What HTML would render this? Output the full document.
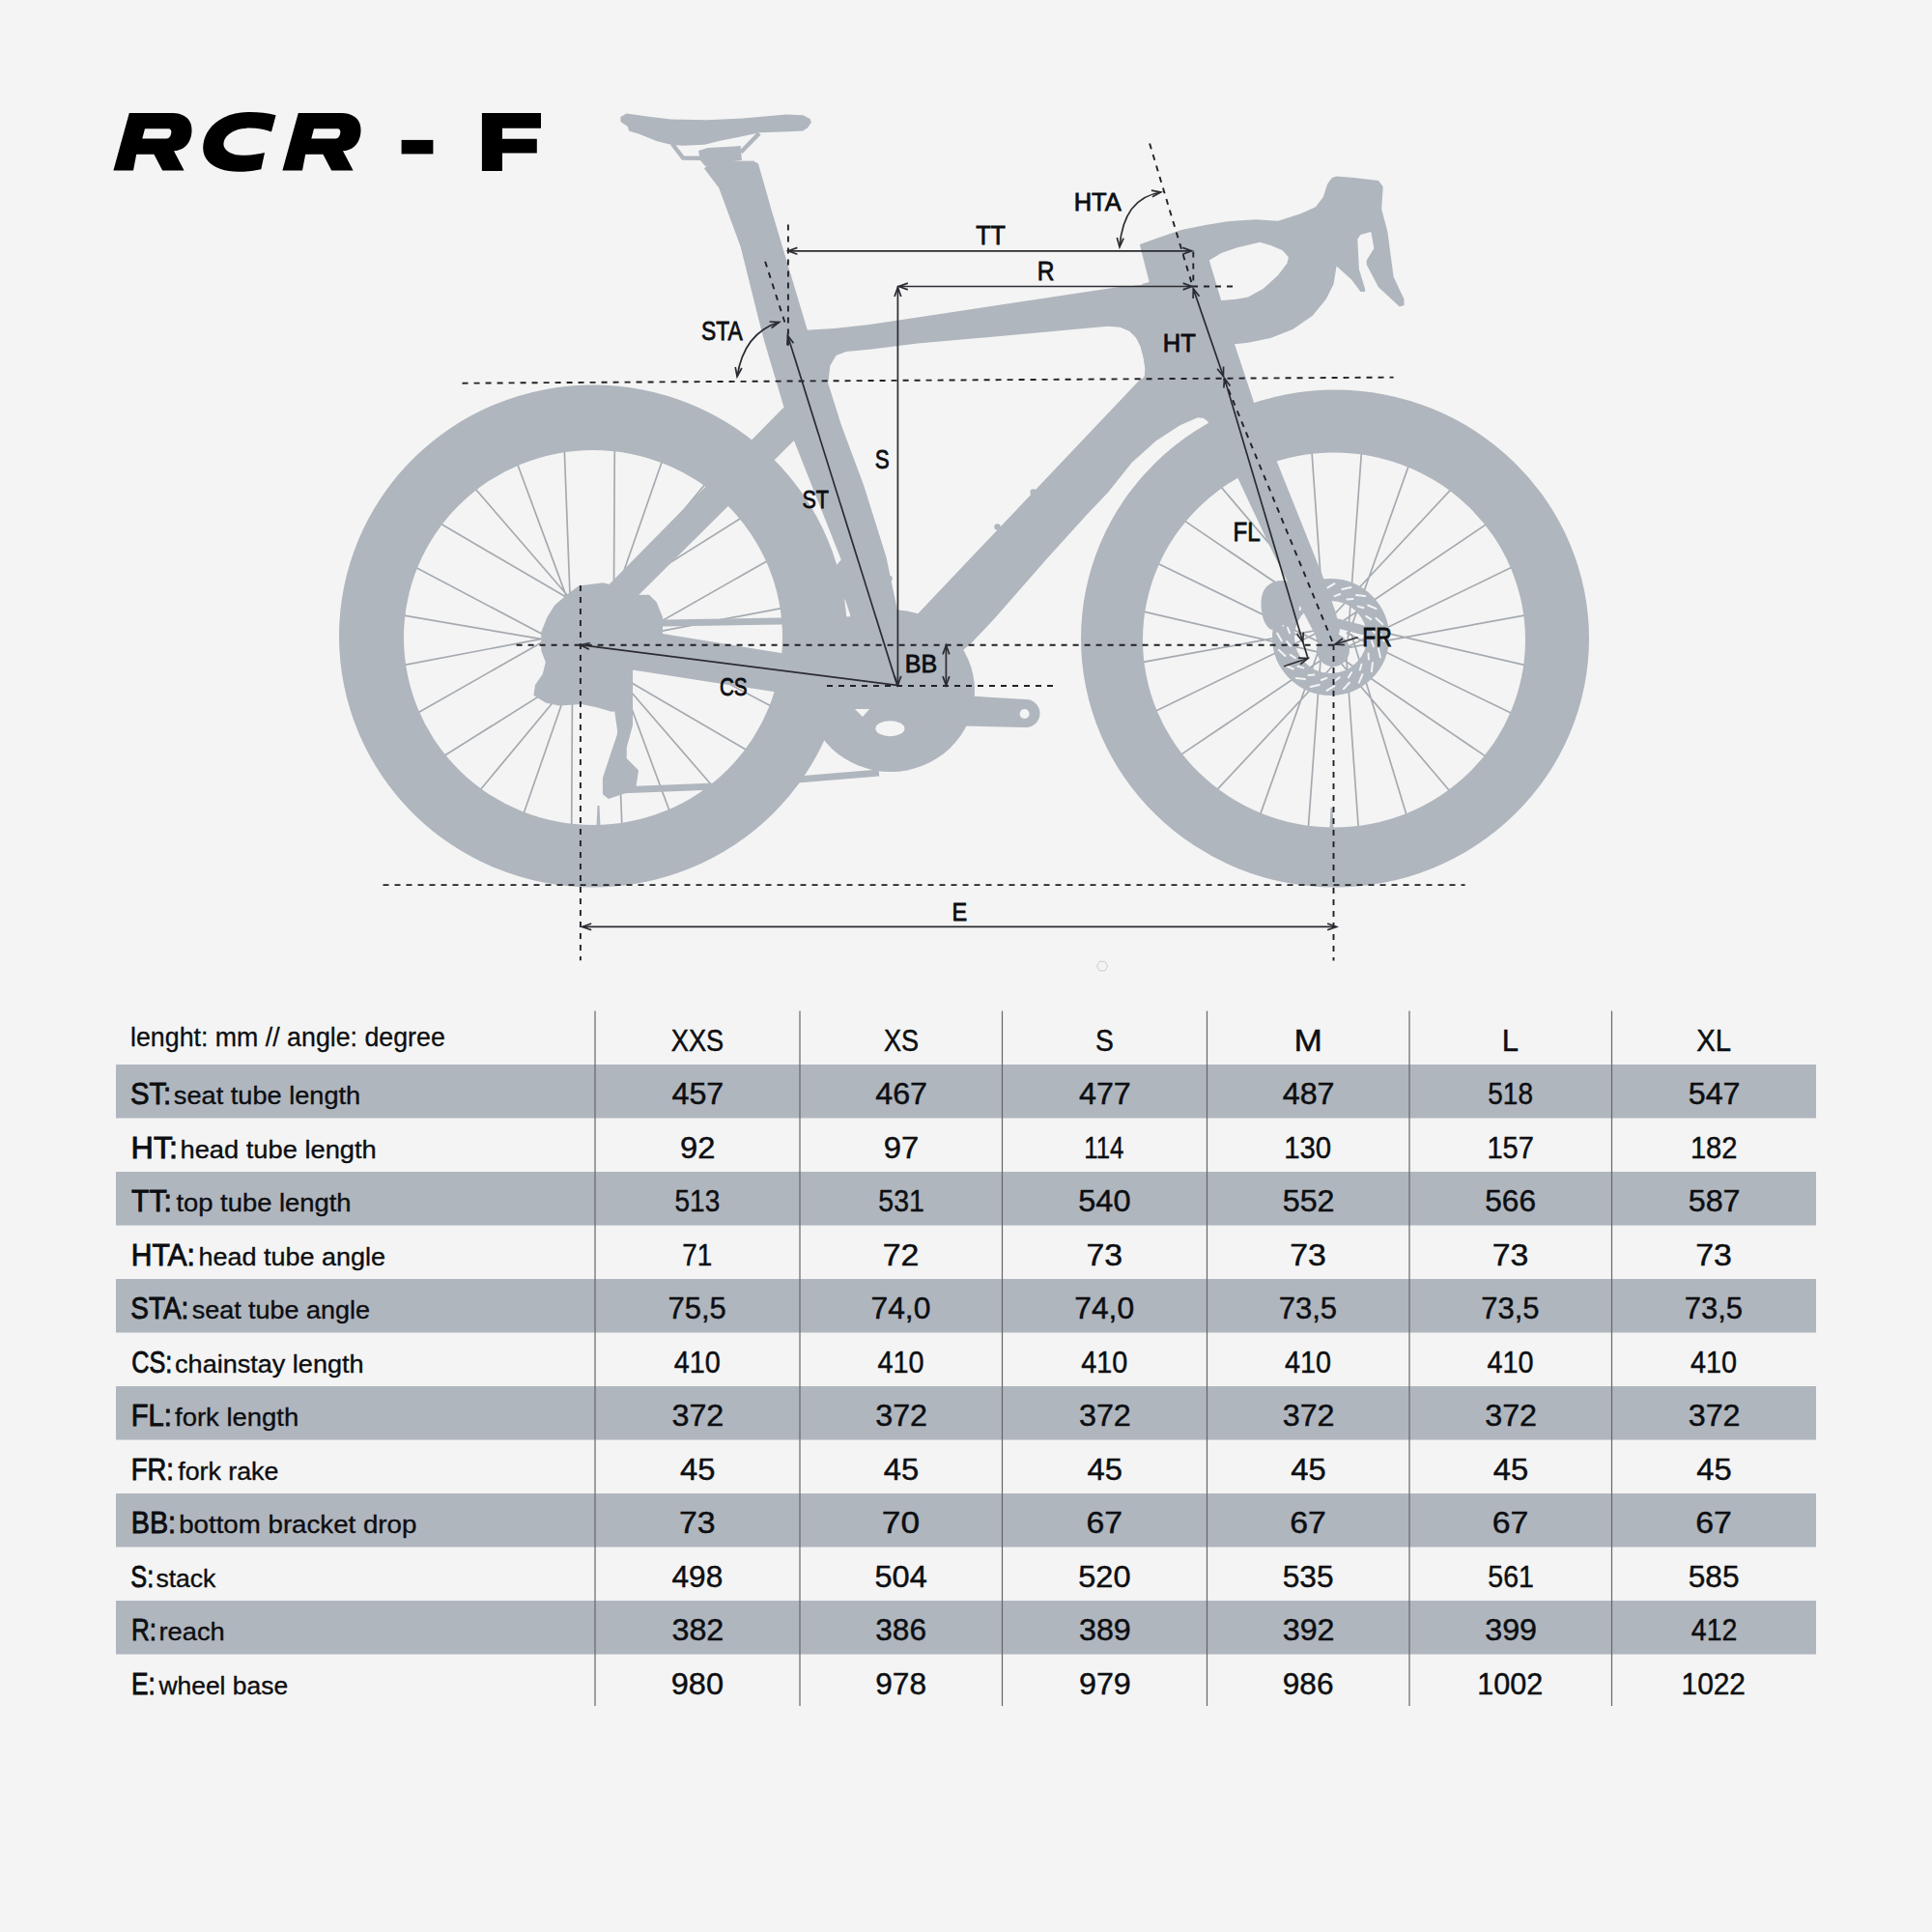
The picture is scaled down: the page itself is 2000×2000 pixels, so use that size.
<!DOCTYPE html>
<html><head><meta charset="utf-8"><style>
html,body{margin:0;padding:0;background:#f4f4f4;}
svg{display:block;}
</style></head><body>
<svg xmlns="http://www.w3.org/2000/svg" width="2000" height="2000" viewBox="0 0 2000 2000">
<rect width="2000" height="2000" fill="#f4f4f4"/>
<path d="M117.4,176.6 L133.8,117 L178.9,117 C188,117 195,121 197.5,128 C200,136 198,146 192,151.5 C188,155 184,156 180,156.3 L190.6,176.6 L168.2,176.6 L159.4,159.8 L141.2,159.8 L138,176.6 Z M150,133.3 L174.3,133.3 C177,133.3 178,136 177,139 C176,142 174.5,143.5 172,143.5 L147.3,143.5 Z" fill="#000" fill-rule="evenodd"/>
<path d="M117.4,176.6 L133.8,117 L178.9,117 C188,117 195,121 197.5,128 C200,136 198,146 192,151.5 C188,155 184,156 180,156.3 L190.6,176.6 L168.2,176.6 L159.4,159.8 L141.2,159.8 L138,176.6 Z M150,133.3 L174.3,133.3 C177,133.3 178,136 177,139 C176,142 174.5,143.5 172,143.5 L147.3,143.5 Z" fill="#000" fill-rule="evenodd" transform="translate(175,0)"/>
<path d="M285.6,119.3 L281,136.6 C274,134 266,132.6 259,132.6 C250,132.6 242,134.5 237,139 C232,143 230.5,148 232,152 C234,157 241,160.8 251,160.8 C259,160.8 267,159.6 274,158 L270.3,175.2 C262,177 255,177.8 247,177.8 C233,177.8 222,174 216,167.5 C211,162 209.5,156 210.5,149 C212,138 219,128 231,122 C240,117.5 250,116 259,116 C268,116 277,117 285.6,119.3 Z" fill="#000"/>
<rect x="415.6" y="144.9" width="32.8" height="14.5" fill="#000"/>
<path d="M498.9,117 L560,117 L560,132.8 L520,132.8 L520,143.7 L555.8,143.7 L555.8,158.6 L520,158.6 L520,176.9 L498.9,176.9 Z" fill="#000"/>
<path d="M415.2,636.7L574.3,663.9M427.8,586.0L574.2,663.2M453.0,540.3L595.4,623.6M489.2,502.7L594.2,624.3M533.9,475.7L589.9,627.1M584.1,461.2L590.4,626.7M636.3,460.2L635.4,625.2M687.0,472.8L634.2,624.5M732.7,498.0L629.6,622.2M770.3,534.2L630.2,622.4M797.3,578.9L654.0,660.6M811.8,629.1L654.0,659.2M812.8,681.3L653.7,654.1M800.2,732.0L653.8,654.8M775.0,777.7L632.6,694.4M738.8,815.3L633.8,693.7M694.1,842.3L638.1,690.9M643.9,856.8L637.6,691.3M591.7,857.8L592.6,692.8M541.0,845.2L593.8,693.5M495.3,820.0L598.4,695.8M457.7,783.8L597.8,695.6M430.7,739.1L574.0,657.4M416.2,688.9L574.0,658.8" stroke="#a5aab0" stroke-width="1.7" fill="none"/>
<path d="M1409.8,462.9L1395.3,662.0M1460.1,476.9L1395.0,660.0M1505.1,503.4L1369.1,649.0M1541.7,540.6L1382.6,648.0M1567.4,586.1L1387.8,673.0M1580.5,636.6L1389.4,671.7M1580.1,688.8L1386.0,643.9M1566.1,739.1L1393.6,655.1M1539.6,784.1L1374.5,672.0M1502.4,820.7L1376.4,672.7M1456.9,846.4L1398.8,655.9M1406.4,859.5L1392.9,668.1M1354.2,859.1L1368.7,660.0M1303.9,845.1L1369.0,662.0M1258.9,818.6L1394.9,673.0M1222.3,781.4L1381.4,674.0M1196.6,735.9L1376.2,649.0M1183.5,685.4L1374.6,650.3M1183.9,633.2L1378.0,678.1M1197.9,582.9L1370.4,666.9M1224.4,537.9L1389.5,650.0M1261.6,501.3L1387.6,649.3M1307.1,475.6L1365.2,666.1M1357.6,462.5L1371.1,653.9" stroke="#a5aab0" stroke-width="1.7" fill="none"/>
<path d="M351,658.5 a263,260 0 1,0 526,0 a263,260 0 1,0 -526,0 Z M418,660 a196,194 0 1,1 392,0 a196,194 0 1,1 -392,0 Z" fill="#b0b6be" fill-rule="evenodd"/>
<path d="M1119,661 a263,257.5 0 1,0 526,0 a263,257.5 0 1,0 -526,0 Z M1183,662.4 a198,194 0 1,1 396,0 a198,194 0 1,1 -396,0 Z" fill="#b0b6be" fill-rule="evenodd"/>
<circle cx="1377.5" cy="659.5" r="49" fill="none" stroke="#b0b6be" stroke-width="23"/>
<path d="M1428.2,655.5L1432.8,663.5M1426.9,671.4L1428.9,680.4M1420.9,686.1L1419.9,695.2M1410.5,698.2L1406.8,706.6M1397.0,706.5L1390.8,713.3M1381.5,710.2L1373.5,714.8M1365.6,708.9L1356.6,710.9M1350.9,702.9L1341.8,701.9M1338.8,692.5L1330.4,688.8M1330.5,679.0L1323.7,672.8M1326.8,663.5L1322.2,655.5M1328.1,647.6L1326.1,638.6M1334.1,632.9L1335.1,623.8M1344.5,620.8L1348.2,612.4M1358.0,612.5L1364.2,605.7M1373.5,608.8L1381.5,604.2M1389.4,610.1L1398.4,608.1M1404.1,616.1L1413.2,617.1M1416.2,626.5L1424.6,630.2M1424.5,640.0L1431.3,646.2M1419.9,663.6L1422.0,669.2M1416.5,676.5L1416.9,682.5M1409.4,687.7L1407.8,693.5M1399.1,696.2L1395.8,701.2M1386.7,701.1L1382.1,704.8M1373.4,701.9L1367.8,704.0M1360.5,698.5L1354.5,698.9M1349.3,691.4L1343.5,689.8M1340.8,681.1L1335.8,677.8M1335.9,668.7L1332.2,664.1M1335.1,655.4L1333.0,649.8M1338.5,642.5L1338.1,636.5M1345.6,631.3L1347.2,625.5M1355.9,622.8L1359.2,617.8M1368.3,617.9L1372.9,614.2M1381.6,617.1L1387.2,615.0M1394.5,620.5L1400.5,620.1M1405.7,627.6L1411.5,629.2M1414.2,637.9L1419.2,641.2M1419.1,650.3L1422.8,654.9" stroke="#f4f4f4" stroke-width="2" stroke-linecap="round" fill="none"/>
<polygon points="811.0,422.0 826.0,440.0 822.0,456.0 645.0,632.0 600.0,636.0" fill="#b0b6be" />
<polygon points="600.0,650.0 686.0,656.0 810.0,676.3 900.0,690.0 930.0,700.0 925.0,742.0 804.0,716.6 654.9,693.4 600.0,690.0" fill="#b0b6be" />
<polygon points="744.2,194.4 737.0,185.0 729.0,174.5 736.0,167.0 780.0,166.5 785.0,169.5 799.4,220.0 835.6,341.0 857.0,396.0 870.8,439.8 894.0,501.9 917.4,576.4 929.0,632.0 940.0,650.0 905.0,705.0 882.0,660.0 880.0,636.0 875.0,621.0 866.0,614.0 865.0,586.0 870.8,579.5 821.0,453.7 811.0,420.0 791.0,352.5 787.7,340.0 766.6,255.3" fill="#b0b6be" />
<polygon points="830.0,342.0 863.6,340.0 900.0,336.0 950.0,328.4 1151.9,298.1 1183.0,295.0 1190.0,292.0 1200.0,330.0 1184.8,389.3 1185.5,381.9 1183.6,369.4 1180.5,358.3 1176.1,349.6 1169.3,342.7 1159.4,338.6 1147.0,337.8 950.0,355.6 900.0,361.8 876.0,364.0 865.6,368.0 859.4,378.4 857.3,396.0 845.0,395.0" fill="#b0b6be" />
<polygon points="1181.0,392.0 1250.0,395.0 1262.0,428.0 1252.0,434.5 1246.0,433.0 1240.0,432.2 1221.5,440.2 1196.6,456.4 1171.8,478.8 1147.0,509.8 1124.2,533.8 1082.8,579.4 1029.8,640.0 1005.5,665.8 960.0,705.0 925.0,690.0 947.4,638.3" fill="#b0b6be" />
<path d="M1179.8,253.0 L1198.0,246.4 L1222.8,238.1 L1247.7,233.1 L1272.5,229.0 L1300.0,227.3 L1323.0,228.7 L1346.3,221.2 L1361.9,214.3 L1369.6,204.2 L1374.3,190.2 L1379.0,184.0 L1383.6,182.4 L1402.2,184.0 L1408.4,184.8 L1427.0,187.0 L1431.7,193.3 L1430.2,216.6 L1436.4,239.9 L1439.5,263.2 L1442.6,286.5 L1453.5,309.8 L1453.5,316.0 L1448.8,317.5 L1427.0,297.3 L1414.7,274.0 L1414.7,269.4 L1422.4,257.0 L1419.3,239.9 L1408.4,243.0 L1405.3,247.6 L1406.9,278.7 L1413.1,298.9 L1413.1,302.0 L1408.4,302.0 L1399.1,289.6 L1383.6,275.6 L1380.5,294.2 L1372.7,309.8 L1358.8,326.8 L1338.6,340.8 L1315.3,350.1 L1292.0,354.8 L1278.0,356.3 L1298.2,416.9 L1322.3,479.0 L1368.9,595.5 L1382.9,634.3 L1387.0,652.0 L1384.0,666.0 L1375.0,672.0 L1365.0,664.0 L1325.4,587.7 L1319.2,575.3 L1281.9,496.1 L1262.0,455.0 L1250.0,436.0 L1235.0,425.0 L1186.0,420.0 L1181.1,394.3 L1184.8,389.3 L1185.5,381.9 L1183.6,369.4 L1180.5,358.3 L1176.1,349.6 L1169.3,342.7 L1159.4,338.6 L1147.0,337.8 L1151.9,298.1 L1183.0,295.0 L1182.2,294.0 L1189.7,291.9 Z M1251.8,269.6 L1264.2,262.1 L1280.8,256.3 L1304.4,250.7 L1315.3,253.9 L1327.7,259.3 L1333.9,266.3 L1332.4,272.5 L1323.0,284.9 L1307.5,298.9 L1292.0,307.4 L1279.6,309.8 L1264.2,311.0 Z" fill="#b0b6be" fill-rule="evenodd"/>
<polygon points="642.4,121.1 648.6,117.4 669.7,120.5 694.5,123.4 731.8,124.2 769.0,122.4 813.8,118.6 831.2,119.3 838.6,123.0 839.9,126.7 836.1,132.3 831.2,135.4 816.3,136.3 786.5,137.3 769.0,141.0 744.2,146.0 729.3,149.7 707.0,150.7 694.5,149.7 679.6,146.0 661.0,138.5 651.0,135.4 649.8,131.0 642.4,126.1" fill="#b0b6be" />
<path d="M696,149 L707,163.5 L745,164 M786,138 L767,157.5" stroke="#b0b6be" stroke-width="4.5" fill="none" stroke-linejoin="round"/>
<polygon points="723.0,156.0 733.0,153.0 752.0,152.0 766.6,151.0 768.0,166.0 748.0,168.0 730.0,172.0 725.0,166.0" fill="#b0b6be" />
<polygon points="599.0,606.4 623.9,603.3 640.0,607.0 658.0,615.7 672.0,615.7 679.8,623.5 686.0,639.0 686.0,654.5 686.0,690.0 655.0,693.4 655.0,735.3 633.2,736.8 617.6,732.2 602.0,729.0 578.8,730.6 564.8,727.5 552.4,719.8 554.0,708.9 561.7,698.0 564.8,685.6 560.2,673.2 560.2,654.5 566.4,639.0 574.2,626.6 586.6,615.7" fill="#b0b6be" />
<polygon points="636.3,736.8 639.4,758.6 631.6,781.9 623.9,805.2 623.9,822.2 630.0,827.0 658.0,817.6 661.0,797.4 648.7,785.0 648.7,774.0 655.0,750.8 655.0,735.3 651.8,715.0" fill="#b0b6be" />
<path d="M686,645 L930,641" stroke="#b0b6be" stroke-width="7" fill="none"/>
<path d="M640,818 L740,814 L910,800" stroke="#b0b6be" stroke-width="7" fill="none"/>
<ellipse cx="922" cy="715" rx="87" ry="84" fill="#b0b6be"/>
<path d="M930,716 L1062,724 A14.5,14.5 0 0 1 1062,753 L930,750 Z" fill="#b0b6be"/>
<circle cx="1060.6" cy="739" r="5" fill="#f4f4f4"/>
<ellipse cx="921.4" cy="754.2" rx="15" ry="8" fill="#f4f4f4"/>
<path d="M1306,618 C1308,606 1318,600 1330,601 L1338,603 L1346,640 L1316,652 C1308,648 1304,632 1306,618 Z" fill="#b0b6be"/>
<circle cx="1380" cy="673" r="17" fill="#b0b6be"/>
<path d="M1372,642 L1410,652" stroke="#b0b6be" stroke-width="10" stroke-linecap="round"/>
<path d="M617.5,855 L618.5,834 L620.5,834 L621.5,855 Z" fill="#b0b6be"/>
<path d="M1376.5,858 L1377.5,836 L1379.5,836 L1380.5,858 Z" fill="#b0b6be"/>
<circle cx="920.5" cy="599" r="3.2" fill="#b0b6be"/>
<circle cx="1069.6" cy="509.5" r="3.2" fill="#b0b6be"/>
<circle cx="1032.5" cy="545.5" r="3.2" fill="#b0b6be"/>
<path d="M885,734 L900,734 L893,742 Z" fill="#f4f4f4"/>
<line x1="478.6" y1="396.7" x2="1442.6" y2="390.6" stroke="#212226" stroke-width="1.9" stroke-dasharray="6 6"/>
<line x1="534.6" y1="667.7" x2="1384" y2="667.7" stroke="#212226" stroke-width="1.9" stroke-dasharray="6 6"/>
<line x1="856" y1="710" x2="1096" y2="710" stroke="#212226" stroke-width="1.9" stroke-dasharray="6 6"/>
<line x1="396.5" y1="916.1" x2="1516.6" y2="916.1" stroke="#212226" stroke-width="1.9" stroke-dasharray="6 6"/>
<line x1="600.9" y1="606" x2="600.9" y2="994.2" stroke="#212226" stroke-width="1.9" stroke-dasharray="6 6"/>
<line x1="1380.5" y1="667" x2="1380.5" y2="994.4" stroke="#212226" stroke-width="1.9" stroke-dasharray="6 6"/>
<line x1="815.9" y1="232.4" x2="815.9" y2="357.7" stroke="#212226" stroke-width="1.9" stroke-dasharray="6 6"/>
<line x1="792.1" y1="270.7" x2="812.8" y2="334.9" stroke="#212226" stroke-width="1.9" stroke-dasharray="6 6"/>
<line x1="1190.1" y1="148.5" x2="1234.5" y2="296" stroke="#212226" stroke-width="1.9" stroke-dasharray="6 6"/>
<line x1="1235.3" y1="260.5" x2="1235.3" y2="296.5" stroke="#212226" stroke-width="1.9" stroke-dasharray="6 6"/>
<line x1="1234" y1="296.5" x2="1278" y2="296.5" stroke="#212226" stroke-width="1.9" stroke-dasharray="6 6"/>
<line x1="1267" y1="392" x2="1380.4" y2="667" stroke="#212226" stroke-width="1.9" stroke-dasharray="6 6"/>
<line x1="816" y1="259.8" x2="1233.6" y2="259.8" stroke="#2b2c31" stroke-width="1.7"/>
<polyline points="825.4,256.4 816.0,259.8 825.4,263.2" fill="none" stroke="#2b2c31" stroke-width="1.7"/>
<polyline points="1224.2,263.2 1233.6,259.8 1224.2,256.4" fill="none" stroke="#2b2c31" stroke-width="1.7"/>
<line x1="930.4" y1="296.5" x2="1234" y2="296.5" stroke="#2b2c31" stroke-width="1.7"/>
<polyline points="939.8,293.1 930.4,296.5 939.8,299.9" fill="none" stroke="#2b2c31" stroke-width="1.7"/>
<polyline points="1224.6,299.9 1234.0,296.5 1224.6,293.1" fill="none" stroke="#2b2c31" stroke-width="1.7"/>
<line x1="929.4" y1="297.6" x2="929.4" y2="709.3" stroke="#2b2c31" stroke-width="1.7"/>
<polyline points="932.8,307.0 929.4,297.6 926.0,307.0" fill="none" stroke="#2b2c31" stroke-width="1.7"/>
<polyline points="926.0,699.9 929.4,709.3 932.8,699.9" fill="none" stroke="#2b2c31" stroke-width="1.7"/>
<line x1="815.4" y1="347.3" x2="928.7" y2="709.3" stroke="#2b2c31" stroke-width="1.7"/>
<polyline points="821.5,355.2 815.4,347.3 814.9,357.3" fill="none" stroke="#2b2c31" stroke-width="1.7"/>
<line x1="600.9" y1="667.7" x2="928.7" y2="709.3" stroke="#2b2c31" stroke-width="1.7"/>
<polyline points="610.7,665.5 600.9,667.7 609.8,672.3" fill="none" stroke="#2b2c31" stroke-width="1.7"/>
<line x1="979.4" y1="668" x2="979.4" y2="709.5" stroke="#2b2c31" stroke-width="1.7"/>
<polyline points="982.8,677.4 979.4,668.0 976.0,677.4" fill="none" stroke="#2b2c31" stroke-width="1.7"/>
<polyline points="976.0,700.1 979.4,709.5 982.8,700.1" fill="none" stroke="#2b2c31" stroke-width="1.7"/>
<line x1="602.8" y1="959.4" x2="1383.5" y2="959.4" stroke="#2b2c31" stroke-width="1.7"/>
<polyline points="612.2,956.0 602.8,959.4 612.2,962.8" fill="none" stroke="#2b2c31" stroke-width="1.7"/>
<polyline points="1374.1,962.8 1383.5,959.4 1374.1,956.0" fill="none" stroke="#2b2c31" stroke-width="1.7"/>
<line x1="1235.3" y1="298.9" x2="1266.4" y2="389.5" stroke="#2b2c31" stroke-width="1.7"/>
<polyline points="1241.6,306.7 1235.3,298.9 1235.1,308.9" fill="none" stroke="#2b2c31" stroke-width="1.7"/>
<polyline points="1260.1,381.7 1266.4,389.5 1266.6,379.5" fill="none" stroke="#2b2c31" stroke-width="1.7"/>
<line x1="1267.5" y1="391.5" x2="1348.7" y2="664.5" stroke="#2b2c31" stroke-width="1.7"/>
<polyline points="1273.5,399.5 1267.5,391.5 1266.9,401.5" fill="none" stroke="#2b2c31" stroke-width="1.7"/>
<polyline points="1342.7,656.5 1348.7,664.5 1349.3,654.5" fill="none" stroke="#2b2c31" stroke-width="1.7"/>
<line x1="1348.7" y1="664.5" x2="1354" y2="681.5" stroke="#2b2c31" stroke-width="1.7"/>
<line x1="1405.7" y1="659.8" x2="1381.9" y2="667" stroke="#2b2c31" stroke-width="1.7"/>
<polyline points="1389.9,661.0 1381.9,667.0 1391.9,667.6" fill="none" stroke="#2b2c31" stroke-width="1.7"/>
<line x1="1329" y1="689.8" x2="1354" y2="681.5" stroke="#2b2c31" stroke-width="1.7"/>
<polyline points="1346.2,687.7 1354.0,681.5 1344.0,681.2" fill="none" stroke="#2b2c31" stroke-width="1.7"/>
<path d="M763.1,389.8 Q770,345 806.6,333.4" fill="none" stroke="#2b2c31" stroke-width="1.7"/>
<polyline points="761.2,380.0 763.1,389.8 767.9,381.0" fill="none" stroke="#2b2c31" stroke-width="1.7"/>
<polyline points="798.7,339.5 806.6,333.4 796.6,333.0" fill="none" stroke="#2b2c31" stroke-width="1.7"/>
<path d="M1159,255.7 Q1163,205 1201.7,199" fill="none" stroke="#2b2c31" stroke-width="1.7"/>
<polyline points="1156.3,246.1 1159.0,255.7 1163.1,246.6" fill="none" stroke="#2b2c31" stroke-width="1.7"/>
<polyline points="1192.9,203.8 1201.7,199.0 1191.9,197.1" fill="none" stroke="#2b2c31" stroke-width="1.7"/>
<polygon points="1146.6,1000.1 1143.8,1004.9 1138.2,1004.9 1135.4,1000.1 1138.2,995.3 1143.8,995.3" fill="none" stroke="#c9cbce" stroke-width="1"/>
<rect x="120" y="1102.00" width="1760" height="55.50" fill="#b0b6be"/>
<rect x="120" y="1213.00" width="1760" height="55.50" fill="#b0b6be"/>
<rect x="120" y="1324.00" width="1760" height="55.50" fill="#b0b6be"/>
<rect x="120" y="1435.00" width="1760" height="55.50" fill="#b0b6be"/>
<rect x="120" y="1546.00" width="1760" height="55.50" fill="#b0b6be"/>
<rect x="120" y="1657.00" width="1760" height="55.50" fill="#b0b6be"/>
<line x1="616" y1="1046.5" x2="616" y2="1766" stroke="#666666" stroke-width="1.2"/>
<line x1="828" y1="1046.5" x2="828" y2="1766" stroke="#666666" stroke-width="1.2"/>
<line x1="1037.5" y1="1046.5" x2="1037.5" y2="1766" stroke="#666666" stroke-width="1.2"/>
<line x1="1249.5" y1="1046.5" x2="1249.5" y2="1766" stroke="#666666" stroke-width="1.2"/>
<line x1="1459" y1="1046.5" x2="1459" y2="1766" stroke="#666666" stroke-width="1.2"/>
<line x1="1668.5" y1="1046.5" x2="1668.5" y2="1766" stroke="#666666" stroke-width="1.2"/>
<g font-family="Liberation Sans" style="white-space:pre"><text x="1010.29" y="252.90" font-size="27.5" font-weight="400" textLength="30.67" lengthAdjust="spacingAndGlyphs" fill="#0c0e11" stroke="#0c0e11" stroke-width="0.8">TT</text>
<text x="1073.65" y="290.20" font-size="28.0" font-weight="400" textLength="17.73" lengthAdjust="spacingAndGlyphs" fill="#0c0e11" stroke="#0c0e11" stroke-width="0.8">R</text>
<text x="905.67" y="484.80" font-size="27.1" font-weight="400" textLength="14.91" lengthAdjust="spacingAndGlyphs" fill="#0c0e11" stroke="#0c0e11" stroke-width="0.8">S</text>
<text x="830.38" y="526.00" font-size="26.1" font-weight="400" textLength="27.51" lengthAdjust="spacingAndGlyphs" fill="#0c0e11" stroke="#0c0e11" stroke-width="0.8">ST</text>
<text x="726.06" y="352.00" font-size="27.0" font-weight="400" textLength="42.68" lengthAdjust="spacingAndGlyphs" fill="#0c0e11" stroke="#0c0e11" stroke-width="0.8">STA</text>
<text x="1111.67" y="217.60" font-size="26.4" font-weight="400" textLength="49.06" lengthAdjust="spacingAndGlyphs" fill="#0c0e11" stroke="#0c0e11" stroke-width="0.8">HTA</text>
<text x="1203.87" y="363.80" font-size="26.5" font-weight="400" textLength="34.04" lengthAdjust="spacingAndGlyphs" fill="#0c0e11" stroke="#0c0e11" stroke-width="0.8">HT</text>
<text x="1276.51" y="560.40" font-size="27.0" font-weight="400" textLength="28.15" lengthAdjust="spacingAndGlyphs" fill="#0c0e11" stroke="#0c0e11" stroke-width="0.8">FL</text>
<text x="1410.21" y="669.10" font-size="27.0" font-weight="400" textLength="30.44" lengthAdjust="spacingAndGlyphs" fill="#0c0e11" stroke="#0c0e11" stroke-width="0.8">FR</text>
<text x="744.90" y="719.80" font-size="25.9" font-weight="400" textLength="28.77" lengthAdjust="spacingAndGlyphs" fill="#0c0e11" stroke="#0c0e11" stroke-width="0.8">CS</text>
<text x="936.81" y="696.20" font-size="25.2" font-weight="400" textLength="33.39" lengthAdjust="spacingAndGlyphs" fill="#0c0e11" stroke="#0c0e11" stroke-width="0.8">BB</text>
<text x="985.44" y="952.70" font-size="26.7" font-weight="400" textLength="15.67" lengthAdjust="spacingAndGlyphs" fill="#0c0e11" stroke="#0c0e11" stroke-width="0.8">E</text>
<text x="135.05" y="1082.80" font-size="27.5" font-weight="400" textLength="325.71" lengthAdjust="spacingAndGlyphs" fill="#0c0e11" stroke="#0c0e11" stroke-width="0.3">lenght: mm // angle: degree</text>
<text x="694.77" y="1087.70" font-size="31" font-weight="400" textLength="54.48" lengthAdjust="spacingAndGlyphs" fill="#0c0e11" stroke="#0c0e11" stroke-width="0.45">XXS</text>
<text x="914.88" y="1087.70" font-size="31" font-weight="400" textLength="36.06" lengthAdjust="spacingAndGlyphs" fill="#0c0e11" stroke="#0c0e11" stroke-width="0.45">XS</text>
<text x="1133.93" y="1087.70" font-size="31" font-weight="400" textLength="18.86" lengthAdjust="spacingAndGlyphs" fill="#0c0e11" stroke="#0c0e11" stroke-width="0.45">S</text>
<text x="1339.48" y="1087.70" font-size="31" font-weight="400" textLength="29.35" lengthAdjust="spacingAndGlyphs" fill="#0c0e11" stroke="#0c0e11" stroke-width="0.45">M</text>
<text x="1554.75" y="1087.70" font-size="31" font-weight="400" textLength="17.25" lengthAdjust="spacingAndGlyphs" fill="#0c0e11" stroke="#0c0e11" stroke-width="0.45">L</text>
<text x="1756.31" y="1087.70" font-size="31" font-weight="400" textLength="35.82" lengthAdjust="spacingAndGlyphs" fill="#0c0e11" stroke="#0c0e11" stroke-width="0.45">XL</text>
<text x="134.88" y="1143.00" font-size="30.5" font-weight="400" textLength="42.38" lengthAdjust="spacingAndGlyphs" fill="#0c0e11" stroke="#0c0e11" stroke-width="0.85">ST:</text>
<text x="179.88" y="1143.00" font-size="26.5" font-weight="400" textLength="193.26" lengthAdjust="spacingAndGlyphs" fill="#0c0e11" stroke="#0c0e11" stroke-width="0.35">seat tube length</text>
<text x="695.46" y="1143.00" font-size="31" font-weight="400" textLength="53.85" lengthAdjust="spacingAndGlyphs" fill="#0c0e11" stroke="#0c0e11" stroke-width="0.45">457</text>
<text x="906.21" y="1143.00" font-size="31" font-weight="400" textLength="53.85" lengthAdjust="spacingAndGlyphs" fill="#0c0e11" stroke="#0c0e11" stroke-width="0.45">467</text>
<text x="1116.96" y="1143.00" font-size="31" font-weight="400" textLength="53.85" lengthAdjust="spacingAndGlyphs" fill="#0c0e11" stroke="#0c0e11" stroke-width="0.45">477</text>
<text x="1327.71" y="1143.00" font-size="31" font-weight="400" textLength="53.85" lengthAdjust="spacingAndGlyphs" fill="#0c0e11" stroke="#0c0e11" stroke-width="0.45">487</text>
<text x="1540.35" y="1143.00" font-size="31" font-weight="400" textLength="46.56" lengthAdjust="spacingAndGlyphs" fill="#0c0e11" stroke="#0c0e11" stroke-width="0.45">518</text>
<text x="1747.71" y="1143.00" font-size="31" font-weight="400" textLength="53.85" lengthAdjust="spacingAndGlyphs" fill="#0c0e11" stroke="#0c0e11" stroke-width="0.45">547</text>
<text x="135.58" y="1198.50" font-size="30.5" font-weight="400" textLength="48.43" lengthAdjust="spacingAndGlyphs" fill="#0c0e11" stroke="#0c0e11" stroke-width="0.85">HT:</text>
<text x="186.54" y="1198.50" font-size="26.5" font-weight="400" textLength="203.27" lengthAdjust="spacingAndGlyphs" fill="#0c0e11" stroke="#0c0e11" stroke-width="0.35">head tube length</text>
<text x="704.04" y="1198.50" font-size="31" font-weight="400" textLength="36.42" lengthAdjust="spacingAndGlyphs" fill="#0c0e11" stroke="#0c0e11" stroke-width="0.45">92</text>
<text x="914.79" y="1198.50" font-size="31" font-weight="400" textLength="36.42" lengthAdjust="spacingAndGlyphs" fill="#0c0e11" stroke="#0c0e11" stroke-width="0.45">97</text>
<text x="1122.34" y="1198.50" font-size="31" font-weight="400" textLength="41.01" lengthAdjust="spacingAndGlyphs" fill="#0c0e11" stroke="#0c0e11" stroke-width="0.45">114</text>
<text x="1329.16" y="1198.50" font-size="31" font-weight="400" textLength="48.99" lengthAdjust="spacingAndGlyphs" fill="#0c0e11" stroke="#0c0e11" stroke-width="0.45">130</text>
<text x="1539.38" y="1198.50" font-size="31" font-weight="400" textLength="48.50" lengthAdjust="spacingAndGlyphs" fill="#0c0e11" stroke="#0c0e11" stroke-width="0.45">157</text>
<text x="1749.88" y="1198.50" font-size="31" font-weight="400" textLength="48.50" lengthAdjust="spacingAndGlyphs" fill="#0c0e11" stroke="#0c0e11" stroke-width="0.45">182</text>
<text x="136.12" y="1254.00" font-size="30.5" font-weight="400" textLength="41.71" lengthAdjust="spacingAndGlyphs" fill="#0c0e11" stroke="#0c0e11" stroke-width="0.85">TT:</text>
<text x="182.40" y="1254.00" font-size="26.5" font-weight="400" textLength="181.19" lengthAdjust="spacingAndGlyphs" fill="#0c0e11" stroke="#0c0e11" stroke-width="0.35">top tube length</text>
<text x="698.60" y="1254.00" font-size="31" font-weight="400" textLength="46.56" lengthAdjust="spacingAndGlyphs" fill="#0c0e11" stroke="#0c0e11" stroke-width="0.45">513</text>
<text x="909.33" y="1254.00" font-size="31" font-weight="400" textLength="47.51" lengthAdjust="spacingAndGlyphs" fill="#0c0e11" stroke="#0c0e11" stroke-width="0.45">531</text>
<text x="1116.25" y="1254.00" font-size="31" font-weight="400" textLength="54.22" lengthAdjust="spacingAndGlyphs" fill="#0c0e11" stroke="#0c0e11" stroke-width="0.45">540</text>
<text x="1327.71" y="1254.00" font-size="31" font-weight="400" textLength="53.85" lengthAdjust="spacingAndGlyphs" fill="#0c0e11" stroke="#0c0e11" stroke-width="0.45">552</text>
<text x="1537.23" y="1254.00" font-size="31" font-weight="400" textLength="52.77" lengthAdjust="spacingAndGlyphs" fill="#0c0e11" stroke="#0c0e11" stroke-width="0.45">566</text>
<text x="1747.71" y="1254.00" font-size="31" font-weight="400" textLength="53.85" lengthAdjust="spacingAndGlyphs" fill="#0c0e11" stroke="#0c0e11" stroke-width="0.45">587</text>
<text x="135.73" y="1309.50" font-size="30.5" font-weight="400" textLength="66.15" lengthAdjust="spacingAndGlyphs" fill="#0c0e11" stroke="#0c0e11" stroke-width="0.85">HTA:</text>
<text x="205.56" y="1309.50" font-size="26.5" font-weight="400" textLength="193.55" lengthAdjust="spacingAndGlyphs" fill="#0c0e11" stroke="#0c0e11" stroke-width="0.35">head tube angle</text>
<text x="706.31" y="1309.50" font-size="31" font-weight="400" textLength="30.92" lengthAdjust="spacingAndGlyphs" fill="#0c0e11" stroke="#0c0e11" stroke-width="0.45">71</text>
<text x="913.67" y="1309.50" font-size="31" font-weight="400" textLength="37.60" lengthAdjust="spacingAndGlyphs" fill="#0c0e11" stroke="#0c0e11" stroke-width="0.45">72</text>
<text x="1124.42" y="1309.50" font-size="31" font-weight="400" textLength="37.60" lengthAdjust="spacingAndGlyphs" fill="#0c0e11" stroke="#0c0e11" stroke-width="0.45">73</text>
<text x="1335.17" y="1309.50" font-size="31" font-weight="400" textLength="37.60" lengthAdjust="spacingAndGlyphs" fill="#0c0e11" stroke="#0c0e11" stroke-width="0.45">73</text>
<text x="1544.67" y="1309.50" font-size="31" font-weight="400" textLength="37.60" lengthAdjust="spacingAndGlyphs" fill="#0c0e11" stroke="#0c0e11" stroke-width="0.45">73</text>
<text x="1755.17" y="1309.50" font-size="31" font-weight="400" textLength="37.60" lengthAdjust="spacingAndGlyphs" fill="#0c0e11" stroke="#0c0e11" stroke-width="0.45">73</text>
<text x="135.27" y="1365.00" font-size="30.5" font-weight="400" textLength="60.05" lengthAdjust="spacingAndGlyphs" fill="#0c0e11" stroke="#0c0e11" stroke-width="0.85">STA:</text>
<text x="198.68" y="1365.00" font-size="26.5" font-weight="400" textLength="184.37" lengthAdjust="spacingAndGlyphs" fill="#0c0e11" stroke="#0c0e11" stroke-width="0.35">seat tube angle</text>
<text x="691.50" y="1365.00" font-size="31" font-weight="400" textLength="60.34" lengthAdjust="spacingAndGlyphs" fill="#0c0e11" stroke="#0c0e11" stroke-width="0.45">75,5</text>
<text x="901.50" y="1365.00" font-size="31" font-weight="400" textLength="61.83" lengthAdjust="spacingAndGlyphs" fill="#0c0e11" stroke="#0c0e11" stroke-width="0.45">74,0</text>
<text x="1112.25" y="1365.00" font-size="31" font-weight="400" textLength="61.83" lengthAdjust="spacingAndGlyphs" fill="#0c0e11" stroke="#0c0e11" stroke-width="0.45">74,0</text>
<text x="1323.75" y="1365.00" font-size="31" font-weight="400" textLength="60.34" lengthAdjust="spacingAndGlyphs" fill="#0c0e11" stroke="#0c0e11" stroke-width="0.45">73,5</text>
<text x="1533.25" y="1365.00" font-size="31" font-weight="400" textLength="60.34" lengthAdjust="spacingAndGlyphs" fill="#0c0e11" stroke="#0c0e11" stroke-width="0.45">73,5</text>
<text x="1743.75" y="1365.00" font-size="31" font-weight="400" textLength="60.34" lengthAdjust="spacingAndGlyphs" fill="#0c0e11" stroke="#0c0e11" stroke-width="0.45">73,5</text>
<text x="136.17" y="1420.50" font-size="30.5" font-weight="400" textLength="42.08" lengthAdjust="spacingAndGlyphs" fill="#0c0e11" stroke="#0c0e11" stroke-width="0.85">CS:</text>
<text x="181.08" y="1420.50" font-size="26.5" font-weight="400" textLength="195.48" lengthAdjust="spacingAndGlyphs" fill="#0c0e11" stroke="#0c0e11" stroke-width="0.35">chainstay length</text>
<text x="697.87" y="1420.50" font-size="31" font-weight="400" textLength="48.01" lengthAdjust="spacingAndGlyphs" fill="#0c0e11" stroke="#0c0e11" stroke-width="0.45">410</text>
<text x="908.62" y="1420.50" font-size="31" font-weight="400" textLength="48.01" lengthAdjust="spacingAndGlyphs" fill="#0c0e11" stroke="#0c0e11" stroke-width="0.45">410</text>
<text x="1119.37" y="1420.50" font-size="31" font-weight="400" textLength="48.01" lengthAdjust="spacingAndGlyphs" fill="#0c0e11" stroke="#0c0e11" stroke-width="0.45">410</text>
<text x="1330.12" y="1420.50" font-size="31" font-weight="400" textLength="48.01" lengthAdjust="spacingAndGlyphs" fill="#0c0e11" stroke="#0c0e11" stroke-width="0.45">410</text>
<text x="1539.62" y="1420.50" font-size="31" font-weight="400" textLength="48.01" lengthAdjust="spacingAndGlyphs" fill="#0c0e11" stroke="#0c0e11" stroke-width="0.45">410</text>
<text x="1750.12" y="1420.50" font-size="31" font-weight="400" textLength="48.01" lengthAdjust="spacingAndGlyphs" fill="#0c0e11" stroke="#0c0e11" stroke-width="0.45">410</text>
<text x="135.69" y="1476.00" font-size="30.5" font-weight="400" textLength="42.16" lengthAdjust="spacingAndGlyphs" fill="#0c0e11" stroke="#0c0e11" stroke-width="0.85">FL:</text>
<text x="181.00" y="1476.00" font-size="26.5" font-weight="400" textLength="128.21" lengthAdjust="spacingAndGlyphs" fill="#0c0e11" stroke="#0c0e11" stroke-width="0.35">fork length</text>
<text x="695.46" y="1476.00" font-size="31" font-weight="400" textLength="53.85" lengthAdjust="spacingAndGlyphs" fill="#0c0e11" stroke="#0c0e11" stroke-width="0.45">372</text>
<text x="906.21" y="1476.00" font-size="31" font-weight="400" textLength="53.85" lengthAdjust="spacingAndGlyphs" fill="#0c0e11" stroke="#0c0e11" stroke-width="0.45">372</text>
<text x="1116.96" y="1476.00" font-size="31" font-weight="400" textLength="53.85" lengthAdjust="spacingAndGlyphs" fill="#0c0e11" stroke="#0c0e11" stroke-width="0.45">372</text>
<text x="1327.71" y="1476.00" font-size="31" font-weight="400" textLength="53.85" lengthAdjust="spacingAndGlyphs" fill="#0c0e11" stroke="#0c0e11" stroke-width="0.45">372</text>
<text x="1537.21" y="1476.00" font-size="31" font-weight="400" textLength="53.85" lengthAdjust="spacingAndGlyphs" fill="#0c0e11" stroke="#0c0e11" stroke-width="0.45">372</text>
<text x="1747.71" y="1476.00" font-size="31" font-weight="400" textLength="53.85" lengthAdjust="spacingAndGlyphs" fill="#0c0e11" stroke="#0c0e11" stroke-width="0.45">372</text>
<text x="135.80" y="1531.50" font-size="30.5" font-weight="400" textLength="44.12" lengthAdjust="spacingAndGlyphs" fill="#0c0e11" stroke="#0c0e11" stroke-width="0.85">FR:</text>
<text x="184.20" y="1531.50" font-size="26.5" font-weight="400" textLength="104.21" lengthAdjust="spacingAndGlyphs" fill="#0c0e11" stroke="#0c0e11" stroke-width="0.35">fork rake</text>
<text x="704.04" y="1531.50" font-size="31" font-weight="400" textLength="36.42" lengthAdjust="spacingAndGlyphs" fill="#0c0e11" stroke="#0c0e11" stroke-width="0.45">45</text>
<text x="914.79" y="1531.50" font-size="31" font-weight="400" textLength="36.42" lengthAdjust="spacingAndGlyphs" fill="#0c0e11" stroke="#0c0e11" stroke-width="0.45">45</text>
<text x="1125.54" y="1531.50" font-size="31" font-weight="400" textLength="36.42" lengthAdjust="spacingAndGlyphs" fill="#0c0e11" stroke="#0c0e11" stroke-width="0.45">45</text>
<text x="1336.29" y="1531.50" font-size="31" font-weight="400" textLength="36.42" lengthAdjust="spacingAndGlyphs" fill="#0c0e11" stroke="#0c0e11" stroke-width="0.45">45</text>
<text x="1545.79" y="1531.50" font-size="31" font-weight="400" textLength="36.42" lengthAdjust="spacingAndGlyphs" fill="#0c0e11" stroke="#0c0e11" stroke-width="0.45">45</text>
<text x="1756.29" y="1531.50" font-size="31" font-weight="400" textLength="36.42" lengthAdjust="spacingAndGlyphs" fill="#0c0e11" stroke="#0c0e11" stroke-width="0.45">45</text>
<text x="135.72" y="1587.00" font-size="30.5" font-weight="400" textLength="46.33" lengthAdjust="spacingAndGlyphs" fill="#0c0e11" stroke="#0c0e11" stroke-width="0.85">BB:</text>
<text x="185.21" y="1587.00" font-size="26.5" font-weight="400" textLength="246.11" lengthAdjust="spacingAndGlyphs" fill="#0c0e11" stroke="#0c0e11" stroke-width="0.35">bottom bracket drop</text>
<text x="702.92" y="1587.00" font-size="31" font-weight="400" textLength="37.60" lengthAdjust="spacingAndGlyphs" fill="#0c0e11" stroke="#0c0e11" stroke-width="0.45">73</text>
<text x="912.88" y="1587.00" font-size="31" font-weight="400" textLength="39.16" lengthAdjust="spacingAndGlyphs" fill="#0c0e11" stroke="#0c0e11" stroke-width="0.45">70</text>
<text x="1124.42" y="1587.00" font-size="31" font-weight="400" textLength="37.60" lengthAdjust="spacingAndGlyphs" fill="#0c0e11" stroke="#0c0e11" stroke-width="0.45">67</text>
<text x="1335.17" y="1587.00" font-size="31" font-weight="400" textLength="37.60" lengthAdjust="spacingAndGlyphs" fill="#0c0e11" stroke="#0c0e11" stroke-width="0.45">67</text>
<text x="1544.67" y="1587.00" font-size="31" font-weight="400" textLength="37.60" lengthAdjust="spacingAndGlyphs" fill="#0c0e11" stroke="#0c0e11" stroke-width="0.45">67</text>
<text x="1755.17" y="1587.00" font-size="31" font-weight="400" textLength="37.60" lengthAdjust="spacingAndGlyphs" fill="#0c0e11" stroke="#0c0e11" stroke-width="0.45">67</text>
<text x="135.34" y="1642.50" font-size="30.5" font-weight="400" textLength="23.90" lengthAdjust="spacingAndGlyphs" fill="#0c0e11" stroke="#0c0e11" stroke-width="0.85">S:</text>
<text x="161.40" y="1642.50" font-size="26.5" font-weight="400" textLength="61.96" lengthAdjust="spacingAndGlyphs" fill="#0c0e11" stroke="#0c0e11" stroke-width="0.35">stack</text>
<text x="695.48" y="1642.50" font-size="31" font-weight="400" textLength="52.77" lengthAdjust="spacingAndGlyphs" fill="#0c0e11" stroke="#0c0e11" stroke-width="0.45">498</text>
<text x="905.50" y="1642.50" font-size="31" font-weight="400" textLength="54.22" lengthAdjust="spacingAndGlyphs" fill="#0c0e11" stroke="#0c0e11" stroke-width="0.45">504</text>
<text x="1116.25" y="1642.50" font-size="31" font-weight="400" textLength="54.22" lengthAdjust="spacingAndGlyphs" fill="#0c0e11" stroke="#0c0e11" stroke-width="0.45">520</text>
<text x="1327.73" y="1642.50" font-size="31" font-weight="400" textLength="52.77" lengthAdjust="spacingAndGlyphs" fill="#0c0e11" stroke="#0c0e11" stroke-width="0.45">535</text>
<text x="1540.33" y="1642.50" font-size="31" font-weight="400" textLength="47.51" lengthAdjust="spacingAndGlyphs" fill="#0c0e11" stroke="#0c0e11" stroke-width="0.45">561</text>
<text x="1747.73" y="1642.50" font-size="31" font-weight="400" textLength="52.77" lengthAdjust="spacingAndGlyphs" fill="#0c0e11" stroke="#0c0e11" stroke-width="0.45">585</text>
<text x="135.89" y="1698.00" font-size="30.5" font-weight="400" textLength="26.04" lengthAdjust="spacingAndGlyphs" fill="#0c0e11" stroke="#0c0e11" stroke-width="0.85">R:</text>
<text x="164.54" y="1698.00" font-size="26.5" font-weight="400" textLength="68.19" lengthAdjust="spacingAndGlyphs" fill="#0c0e11" stroke="#0c0e11" stroke-width="0.35">reach</text>
<text x="695.46" y="1698.00" font-size="31" font-weight="400" textLength="53.85" lengthAdjust="spacingAndGlyphs" fill="#0c0e11" stroke="#0c0e11" stroke-width="0.45">382</text>
<text x="906.23" y="1698.00" font-size="31" font-weight="400" textLength="52.77" lengthAdjust="spacingAndGlyphs" fill="#0c0e11" stroke="#0c0e11" stroke-width="0.45">386</text>
<text x="1116.96" y="1698.00" font-size="31" font-weight="400" textLength="53.85" lengthAdjust="spacingAndGlyphs" fill="#0c0e11" stroke="#0c0e11" stroke-width="0.45">389</text>
<text x="1327.71" y="1698.00" font-size="31" font-weight="400" textLength="53.85" lengthAdjust="spacingAndGlyphs" fill="#0c0e11" stroke="#0c0e11" stroke-width="0.45">392</text>
<text x="1537.21" y="1698.00" font-size="31" font-weight="400" textLength="53.85" lengthAdjust="spacingAndGlyphs" fill="#0c0e11" stroke="#0c0e11" stroke-width="0.45">399</text>
<text x="1750.83" y="1698.00" font-size="31" font-weight="400" textLength="47.51" lengthAdjust="spacingAndGlyphs" fill="#0c0e11" stroke="#0c0e11" stroke-width="0.45">412</text>
<text x="135.88" y="1753.50" font-size="30.5" font-weight="400" textLength="24.86" lengthAdjust="spacingAndGlyphs" fill="#0c0e11" stroke="#0c0e11" stroke-width="0.85">E:</text>
<text x="164.50" y="1753.50" font-size="26.5" font-weight="400" textLength="133.57" lengthAdjust="spacingAndGlyphs" fill="#0c0e11" stroke="#0c0e11" stroke-width="0.35">wheel base</text>
<text x="694.75" y="1753.50" font-size="31" font-weight="400" textLength="54.22" lengthAdjust="spacingAndGlyphs" fill="#0c0e11" stroke="#0c0e11" stroke-width="0.45">980</text>
<text x="906.23" y="1753.50" font-size="31" font-weight="400" textLength="52.77" lengthAdjust="spacingAndGlyphs" fill="#0c0e11" stroke="#0c0e11" stroke-width="0.45">978</text>
<text x="1116.96" y="1753.50" font-size="31" font-weight="400" textLength="53.85" lengthAdjust="spacingAndGlyphs" fill="#0c0e11" stroke="#0c0e11" stroke-width="0.45">979</text>
<text x="1327.73" y="1753.50" font-size="31" font-weight="400" textLength="52.77" lengthAdjust="spacingAndGlyphs" fill="#0c0e11" stroke="#0c0e11" stroke-width="0.45">986</text>
<text x="1529.28" y="1753.50" font-size="31" font-weight="400" textLength="67.92" lengthAdjust="spacingAndGlyphs" fill="#0c0e11" stroke="#0c0e11" stroke-width="0.45">1002</text>
<text x="1740.52" y="1753.50" font-size="31" font-weight="400" textLength="66.46" lengthAdjust="spacingAndGlyphs" fill="#0c0e11" stroke="#0c0e11" stroke-width="0.45">1022</text></g>
</svg></body></html>
